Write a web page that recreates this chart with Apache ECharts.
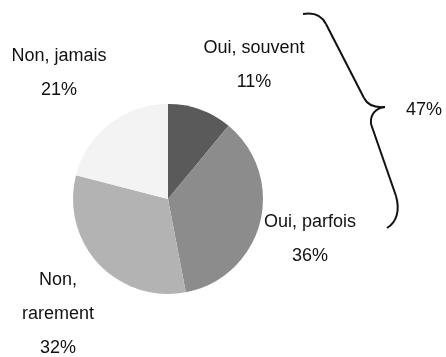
<!DOCTYPE html>
<html>
<head>
<meta charset="utf-8">
<script src="https://cdn.jsdelivr.net/npm/echarts@6/dist/echarts.min.js"></script>
<style>
  html, body { margin: 0; padding: 0; background: #fff; }
  #chart { width: 446px; height: 357px; }
</style>
</head>
<body>
<div id="chart"></div>
<script>
// Survey answers, clockwise from 12 o'clock
const categories = ['Oui, souvent', 'Oui, parfois', 'Non,\nrarement', 'Non, jamais'];
const shares = [11, 36, 32, 21];

// Slice shades and label centres (pixels)
const shades = ['#5a5a5a', '#8c8c8c', '#b3b3b3', '#f3f3f3'];
const labelSpots = [[254, 65], [310, 239], [58, 314], [59, 73]];

const FONT = '"Liberation Sans Narrow", "Liberation Sans", Arial, sans-serif';
const FONT_SIZE = 18;

// the "oui" answers together, shown beside the brace
const ouiTotal = shares[0] + shares[1];

// right curly brace grouping the two "oui" slices
const braceStyle = { fill: null, stroke: '#111', lineWidth: 2 };
const curve = (a, c1, c2, b) => ({
  type: 'bezierCurve',
  shape: { x1: a[0], y1: a[1], cpx1: c1[0], cpy1: c1[1], cpx2: c2[0], cpy2: c2[1], x2: b[0], y2: b[1] },
  style: braceStyle
});
const segment = (a, b) => ({
  type: 'line',
  shape: { x1: a[0], y1: a[1], x2: b[0], y2: b[1] },
  style: braceStyle
});

const chart = echarts.init(document.getElementById('chart'), null, { renderer: 'canvas' });

chart.setOption({
  backgroundColor: '#ffffff',
  animation: false,
  series: [{
    type: 'pie',
    center: [168, 199],
    radius: 95,
    startAngle: 90,
    clockwise: true,
    silent: true,
    data: categories.map((name, i) => ({
      name: name,
      value: shares[i],
      itemStyle: { color: shades[i] }
    })),
    itemStyle: { borderWidth: 0 },
    label: {
      show: true,
      position: 'outside',
      overflow: 'none',
      formatter: p => p.name + '\n' + p.value + '%',
      fontFamily: FONT,
      fontSize: FONT_SIZE,
      lineHeight: 34,
      color: '#111',
      align: 'center'
    },
    labelLine: { show: false },
    labelLayout: p => ({
      x: labelSpots[p.dataIndex][0],
      y: labelSpots[p.dataIndex][1],
      align: 'center',
      verticalAlign: 'middle'
    })
  }],
  graphic: [
    curve([303, 14], [315, 12], [322, 16], [326, 24]),
    segment([326, 24], [364, 98]),
    curve([364, 98], [367, 104], [373, 108], [385, 107]),
    curve([385, 107], [376, 108], [370, 114], [371, 124]),
    segment([371, 124], [396, 196]),
    curve([396, 196], [400, 210], [397, 222], [387, 228]),
    {
      type: 'text',
      x: 424,
      y: 110,
      style: {
        text: ouiTotal + '%',
        fontFamily: FONT,
        fontSize: FONT_SIZE,
        fill: '#111',
        align: 'center',
        verticalAlign: 'middle'
      }
    }
  ]
});
</script>
</body>
</html>
